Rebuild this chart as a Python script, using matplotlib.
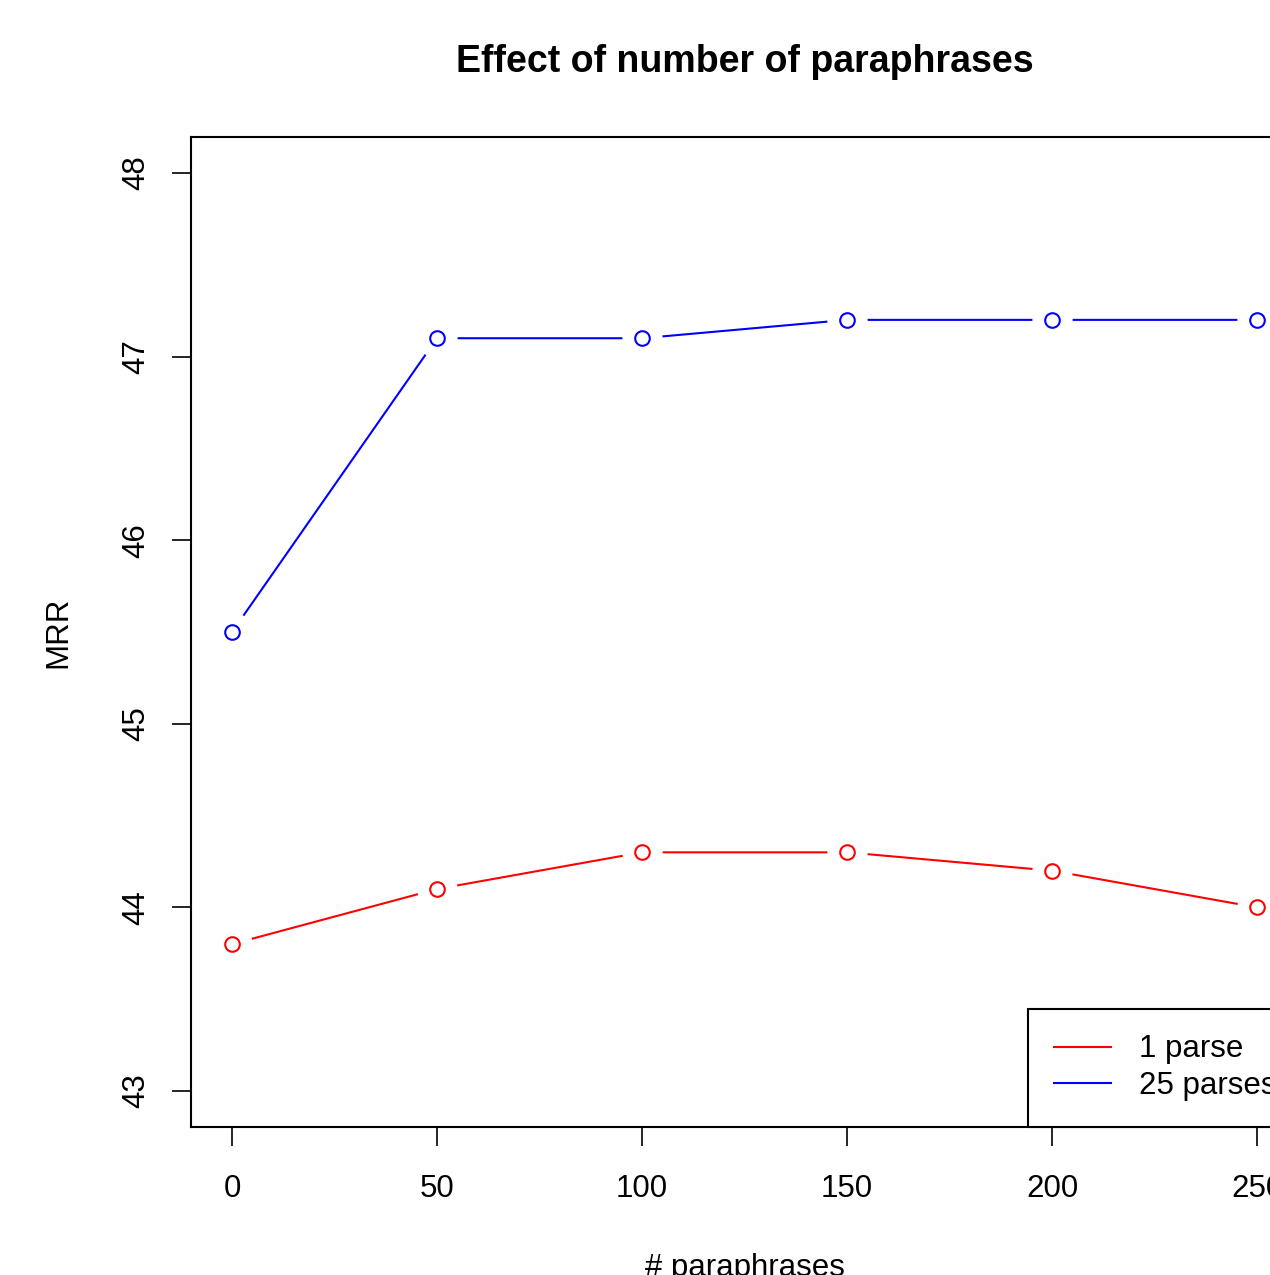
import matplotlib
matplotlib.use("Agg")
from matplotlib import pyplot as plt

# data
n_paraphrases = [0, 50, 100, 150, 200, 250]
mrr_1_parse = [43.8, 44.1, 44.3, 44.3, 44.2, 44.0]
mrr_25_parses = [45.5, 47.1, 47.1, 47.2, 47.2, 47.2]
y_ticks = [43, 44, 45, 46, 47, 48]
x_ticks = [0, 50, 100, 150, 200, 250]

plt.rcParams['font.family'] = ['Liberation Sans', 'DejaVu Sans']

W, H = 1270, 1275
fig = plt.figure(figsize=(W / 100, H / 100), dpi=100)
# R-style plot region, runs off the right edge like the original
ax = fig.add_axes([191 / W, 1 - 1127 / H, 1107 / W, 990 / H])


def plot_type_b(x, y, color, label):
    # R type="b": lines with gaps around open circles
    ax.plot(x, y, color=color, lw=1.5, label=label, zorder=2)
    ax.plot(x, y, ls='none', marker='o', ms=28, mfc='white', mec='white', zorder=3)
    ax.plot(x, y, ls='none', marker='o', ms=10.5, mfc='white', mec=color, mew=1.5, zorder=4)


plot_type_b(n_paraphrases, mrr_1_parse, 'red', '1 parse')
plot_type_b(n_paraphrases, mrr_25_parses, 'blue', '25 parses')

ax.set_xlim(-10, 260)
ax.set_ylim(42.804, 48.196)
ax.set_xticks(x_ticks)
ax.set_yticks(y_ticks)
ax.set_xticklabels([str(v) for v in x_ticks])
ax.set_yticklabels([str(v) for v in y_ticks], rotation=90, va='center')
ax.tick_params(length=13.5, width=1.2, labelsize=22.5, pad=20, direction='out')
ax.tick_params(axis='y', pad=15)
for s in ax.spines.values():
    s.set_linewidth(1.5)

leg = ax.legend(loc='lower right', bbox_to_anchor=(1 + 4 / 1107, 0), borderaxespad=0,
                fancybox=False, edgecolor='black', fontsize=22.5, handlelength=1.85,
                handletextpad=0.88, borderpad=0.82, labelspacing=0.22, framealpha=1)
leg.get_frame().set_linewidth(1.5)

fig.text(744.5 / W, 1 - 72 / H, 'Effect of number of paraphrases', ha='center', va='baseline',
         fontsize=27, fontweight='bold')
fig.text(744.5 / W, 1 - 1276 / H, '# paraphrases', ha='center', va='baseline', fontsize=22.5)
fig.text(58 / W, 1 - 632 / H, 'MRR', ha='center', va='center', rotation=90, fontsize=22.5)

fig.savefig('out.png', dpi=100)
